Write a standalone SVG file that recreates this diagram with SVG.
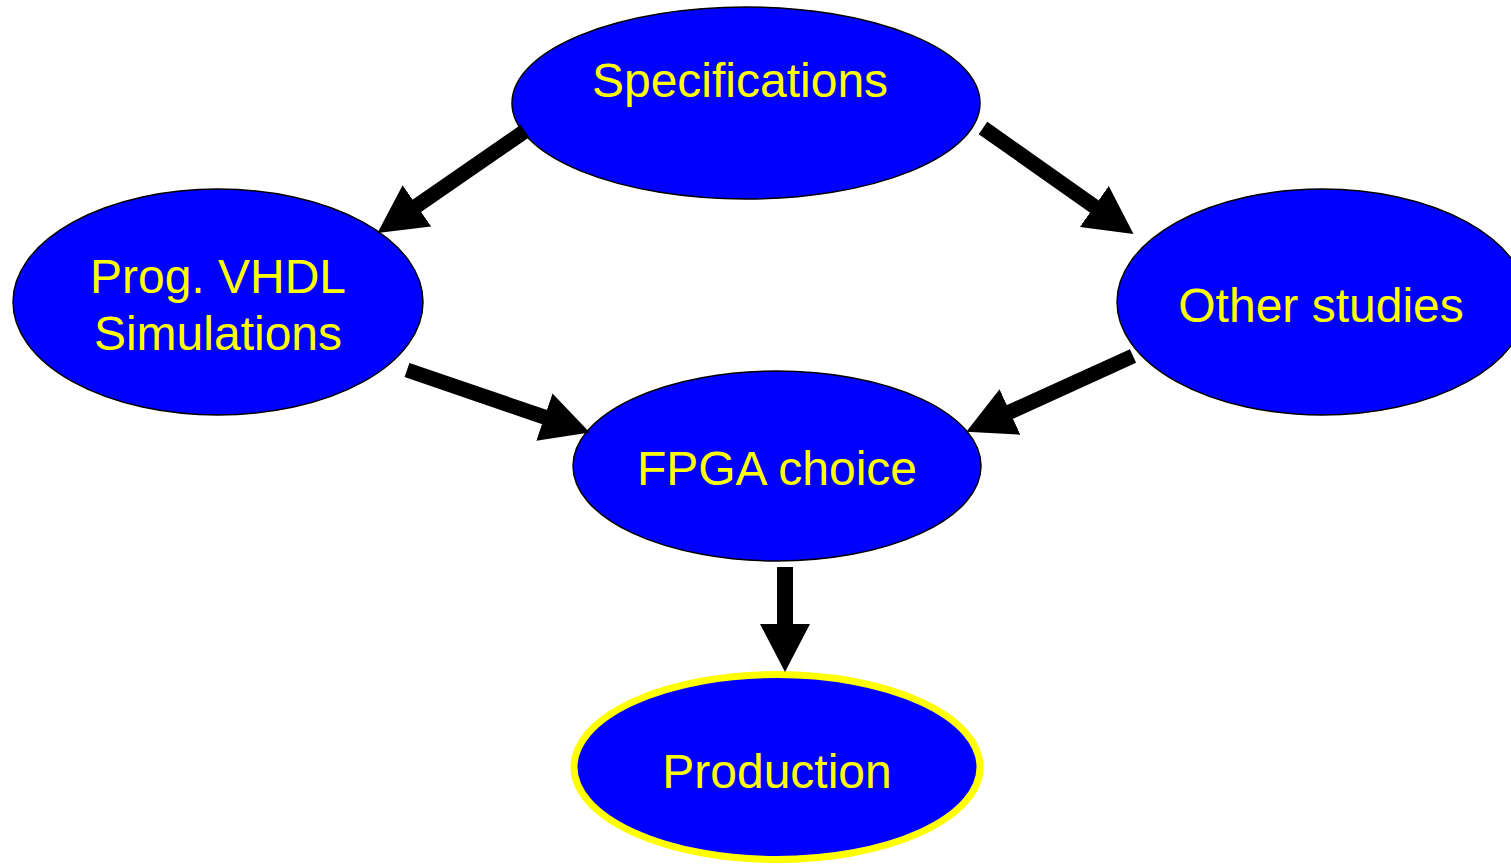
<svg xmlns="http://www.w3.org/2000/svg" width="1511" height="864" viewBox="0 0 1511 864">
  <style>
    .node { fill: #0000ff; stroke: #000000; stroke-width: 1.5; }
    .final { fill: #0000ff; stroke: #ffff00; stroke-width: 7; }
    .label { fill: #ffff00; font-family: "Liberation Sans", Arial, sans-serif; font-size: 48px; text-anchor: middle; }
    .edge { fill: none; stroke: #000000; stroke-width: 15; stroke-linecap: butt; marker-end: url(#head); }
  </style>
  <defs>
    <marker id="head" markerUnits="userSpaceOnUse" markerWidth="48" markerHeight="50" viewBox="0 0 46 48" refX="1" refY="24" orient="auto">
      <path d="M0,0 L46,24 L0,48 Z" fill="#000000"/>
    </marker>
  </defs>

  <rect width="1511" height="864" fill="#ffffff"/>

  <g id="specifications">
    <ellipse class="node" cx="746" cy="103" rx="234" ry="96"/>
    <text class="label" x="740" y="97">Specifications</text>
  </g>

  <g id="prog-vhdl">
    <ellipse class="node" cx="218" cy="302" rx="205" ry="113"/>
    <text class="label" x="218" y="293">Prog. VHDL</text>
    <text class="label" x="218" y="350">Simulations</text>
  </g>

  <g id="other-studies">
    <ellipse class="node" cx="1322" cy="302" rx="205" ry="113"/>
    <text class="label" x="1321" y="322">Other studies</text>
  </g>

  <g id="fpga-choice">
    <ellipse class="node" cx="777" cy="466" rx="204" ry="95"/>
    <text class="label" x="777" y="485">FPGA choice</text>
  </g>

  <g id="production">
    <ellipse class="final" cx="777" cy="767" rx="203" ry="92.5"/>
    <text class="label" x="777" y="788">Production</text>
  </g>

  <g id="connectors">
    <path class="edge" d="M525,131 L416,206.4"/>
    <path class="edge" d="M983,128 L1095.2,207.1"/>
    <path class="edge" d="M785,567 L785,625" style="stroke-width:16"/>
    <path class="edge" d="M407,370 L545.4,417.4"/>
    <path class="edge" d="M1133,356 L1009,412.4"/>
  </g>
</svg>
